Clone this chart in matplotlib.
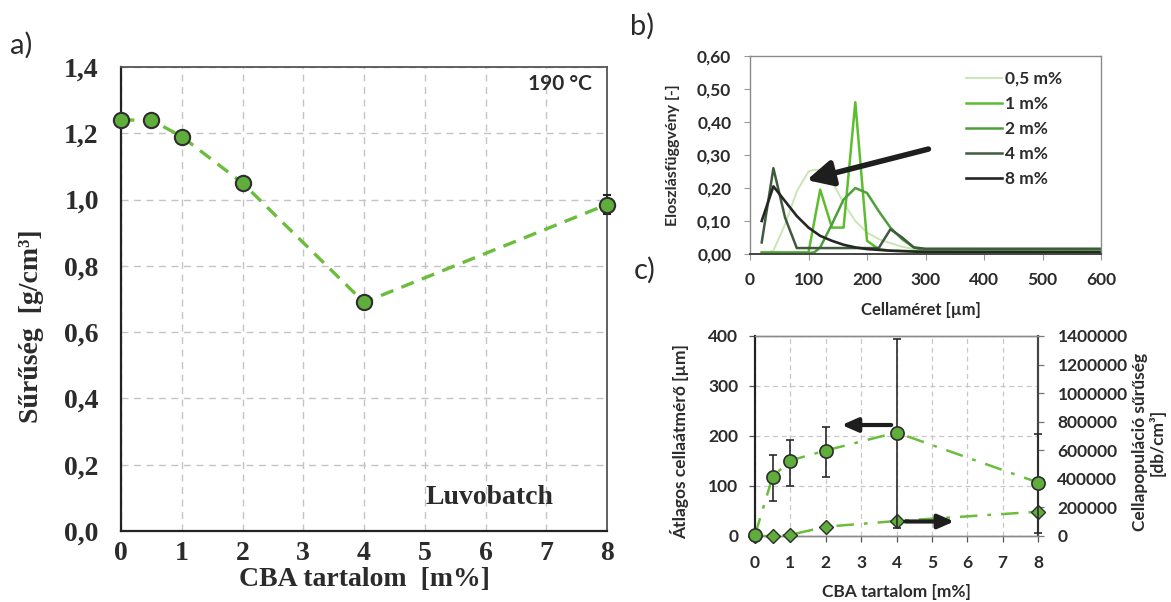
import matplotlib
matplotlib.use("Agg")
import matplotlib.pyplot as plt

W, H = 1171, 602

# ---------------- Panel a data ----------------
cba_a = [0, 0.5, 1, 2, 4, 8]
density = [1.24, 1.24, 1.19, 1.05, 0.69, 0.985]
density_err = [0, 0, 0, 0, 0, 0.03]
a_xticks = [0, 1, 2, 3, 4, 5, 6, 7, 8]
a_yticks = [0.0, 0.2, 0.4, 0.6, 0.8, 1.0, 1.2, 1.4]
a_yticklabels = ["0,0", "0,2", "0,4", "0,6", "0,8", "1,0", "1,2", "1,4"]

# ---------------- Panel b data ----------------
b_labels = ["0,5 m%", "1 m%", "2 m%", "4 m%", "8 m%"]
x_05 = [20, 40, 60, 80, 100, 110, 120, 140, 160, 180, 200, 220, 240, 260, 280, 300, 600]
y_05 = [0.0, 0.01, 0.09, 0.19, 0.25, 0.255, 0.255, 0.22, 0.155, 0.10, 0.065, 0.045, 0.033, 0.022, 0.015, 0.01, 0.008]
x_1 = [20, 40, 60, 80, 100, 120, 140, 160, 180, 200, 220, 240, 300, 600]
y_1 = [0.005, 0.005, 0.005, 0.005, 0.005, 0.195, 0.08, 0.08, 0.46, 0.04, 0.015, 0.01, 0.008, 0.008]
x_2 = [20, 100, 110, 120, 140, 160, 180, 200, 220, 240, 260, 280, 300, 600]
y_2 = [0.003, 0.003, 0.005, 0.02, 0.09, 0.165, 0.20, 0.185, 0.13, 0.08, 0.045, 0.02, 0.01, 0.01]
x_4 = [20, 40, 60, 80, 100, 220, 240, 260, 280, 300, 600]
y_4 = [0.035, 0.26, 0.11, 0.018, 0.018, 0.018, 0.075, 0.05, 0.02, 0.016, 0.016]
x_8 = [20, 40, 60, 80, 100, 120, 140, 160, 180, 200, 240, 300, 600]
y_8 = [0.10, 0.205, 0.16, 0.115, 0.08, 0.055, 0.04, 0.028, 0.02, 0.015, 0.01, 0.006, 0.005]
b_xticks = [0, 100, 200, 300, 400, 500, 600]
b_yticks = [0.0, 0.1, 0.2, 0.3, 0.4, 0.5, 0.6]
b_yticklabels = ["0,00", "0,10", "0,20", "0,30", "0,40", "0,50", "0,60"]

# ---------------- Panel c data ----------------
cba_c = [0, 0.5, 1, 2, 4, 8]
cell_diam = [2, 119, 151, 171, 207, 107]
cell_diam_err_lo = [0, 48, 50, 52, 190, 100]
cell_diam_err_hi = [0, 43, 41, 47, 188, 98]
cell_dens = [0, 0, 8000, 65000, 105000, 170000]
c_xticks = [0, 1, 2, 3, 4, 5, 6, 7, 8]
c_yticks = [0, 100, 200, 300, 400]
c_y2ticks = [0, 200000, 400000, 600000, 800000, 1000000, 1200000, 1400000]

TXT = "#2b2b2b"
GREEN = "#5fae3c"
LINEG = "#6cbc3e"
SERIF = "Liberation Serif"
SANS = "Lato"

fig = plt.figure(figsize=(W / 100, H / 100), dpi=100)


def rect(l, r, t, b):
    return [l / W, (H - b) / H, (r - l) / W, (b - t) / H]


# ======================= Panel a =======================
axa = fig.add_axes(rect(121, 607, 67, 531))
axa.set_xlim(0, 8)
axa.set_ylim(0, 1.4)
axa.set_xticks(a_xticks)
axa.set_xticklabels([str(t) for t in a_xticks])
axa.set_yticks(a_yticks)
axa.set_yticklabels(a_yticklabels)
for lab in axa.get_xticklabels() + axa.get_yticklabels():
    lab.set_fontfamily(SERIF)
    lab.set_fontweight("bold")
    lab.set_fontsize(20)
    lab.set_color(TXT)
axa.tick_params(axis="y", length=0, pad=16)
axa.tick_params(axis="x", length=0, pad=7)
axa.grid(True, color="#c4c4c4", linestyle=(0, (5, 4)), linewidth=1.0)
axa.set_axisbelow(True)
for s in ["left", "bottom"]:
    axa.spines[s].set_color("#222222")
    axa.spines[s].set_linewidth(1.6)
for s in ["top", "right"]:
    axa.spines[s].set_color("#555555")
    axa.spines[s].set_linewidth(1.3)
axa.plot(cba_a, density, color=LINEG, linestyle=(0, (4, 2.6)), linewidth=2.4, zorder=3)
axa.errorbar(cba_a, density, yerr=density_err, fmt="o", markersize=11,
             markerfacecolor=GREEN, markeredgecolor="#2e2e2e", markeredgewidth=1.5,
             ecolor="#222222", elinewidth=1.2, capsize=3, zorder=4, clip_on=False)
axa.set_xlabel("CBA tartalom  [m%]", fontfamily=SERIF, fontweight="bold", fontsize=20, color=TXT)
axa.xaxis.label.set_va("center")
axa.xaxis.set_label_coords(0.5, -(580 - 531) / 464)
axa.set_ylabel("Sűrűség  [g/cm³]", fontfamily=SERIF, fontweight="bold", fontsize=20, color=TXT)
axa.yaxis.label.set_va("center")
axa.yaxis.set_label_coords(-(121 - 32) / 486, (531 - 326) / 464)
axa.text(7.22, 1.35, "190 °C", fontfamily=SANS, fontweight="bold", fontsize=15,
         color=TXT, ha="center", va="center")
axa.text(6.06, 0.10, "Luvobatch", fontfamily=SERIF, fontweight="bold", fontsize=20,
         color=TXT, ha="center", va="center")

# ======================= Panel b =======================
axb = fig.add_axes(rect(750, 1101, 56, 254))
axb.set_xlim(0, 600)
axb.set_ylim(0, 0.6)
b_colors = ["#c9e6b4", "#5cbd2e", "#4f9e3c", "#3f5a3e", "#262626"]
b_lw = [1.4, 1.8, 1.8, 1.8, 1.9]
series_b = [(x_05, y_05), (x_1, y_1), (x_2, y_2), (x_4, y_4), (x_8, y_8)]
for (xs, ys), c, lw, lab in zip(series_b, b_colors, b_lw, b_labels):
    axb.plot(xs, ys, color=c, linewidth=lw, label=lab)
axb.set_xticks(b_xticks)
axb.set_xticklabels([str(t) for t in b_xticks])
axb.set_yticks(b_yticks)
axb.set_yticklabels(b_yticklabels)
for lab in axb.get_xticklabels() + axb.get_yticklabels():
    lab.set_fontfamily(SANS)
    lab.set_fontweight("bold")
    lab.set_fontsize(12.5)
    lab.set_color(TXT)
axb.tick_params(axis="both", length=4, width=0.8, color="#999999")
axb.tick_params(axis="y", pad=9.5)
axb.tick_params(axis="x", pad=9)
for s in axb.spines.values():
    s.set_color("#8a8a8a")
    s.set_linewidth(1.0)
axb.spines["bottom"].set_color("#444444")
axb.spines["bottom"].set_linewidth(1.4)
axb.set_xlabel("Cellaméret [µm]", fontfamily=SANS, fontweight="bold", fontsize=12, color=TXT)
axb.xaxis.label.set_va("center")
axb.xaxis.set_label_coords(0.486, -(310 - 254) / 198)
axb.set_ylabel("Eloszlásfüggvény [-]", fontfamily=SANS, fontweight="bold", fontsize=11.5, color=TXT)
axb.yaxis.label.set_va("center")
axb.yaxis.set_label_coords(-(750 - 673) / 351, 0.5)
leg = axb.legend(loc="upper left", bbox_to_anchor=((966 - 750) / 351, (254 - 71) / 198),
                 frameon=False, borderpad=0, borderaxespad=0, handlelength=2.1,
                 handletextpad=0.15, labelspacing=0.52,
                 prop={"family": SANS, "weight": "bold", "size": 12.5})
for t in leg.get_texts():
    t.set_color(TXT)
axb.annotate("", xy=(97, 0.224), xytext=(305, 0.318),
             arrowprops=dict(arrowstyle="-|>,head_length=1.1,head_width=0.55",
                             lw=4, color="#1e1e1e", shrinkA=0, shrinkB=0,
                             mutation_scale=14))

# ======================= Panel c =======================
axc = fig.add_axes(rect(755, 1038, 336, 536))
axc.set_xlim(0, 8)
axc.set_ylim(0, 400)
axc.set_xticks(c_xticks)
axc.set_xticklabels([str(t) for t in c_xticks])
axc.set_yticks(c_yticks)
axc.set_yticklabels([str(t) for t in c_yticks])
axc.grid(True, color="#c8c8c8", linestyle=(0, (4, 3)), linewidth=0.9)
axc.set_axisbelow(True)
ax2 = axc.twinx()
ax2.set_ylim(0, 1400000)
ax2.set_yticks(c_y2ticks)
ax2.set_yticklabels([str(t) for t in c_y2ticks])
for lab in axc.get_xticklabels() + axc.get_yticklabels() + ax2.get_yticklabels():
    lab.set_fontfamily(SANS)
    lab.set_fontweight("bold")
    lab.set_fontsize(12.5)
    lab.set_color(TXT)
axc.tick_params(axis="both", length=4, width=0.9, color="#555555")
axc.tick_params(axis="y", pad=8)
axc.tick_params(axis="x", pad=10)
ax2.tick_params(axis="y", length=4, width=0.9, color="#777777", pad=10)
for a in (axc, ax2):
    a.spines["left"].set_color("#222222")
    a.spines["left"].set_linewidth(1.5)
    a.spines["right"].set_color("#444444")
    a.spines["right"].set_linewidth(1.5)
    a.spines["top"].set_color("#8a8a8a")
    a.spines["top"].set_linewidth(1.0)
    a.spines["bottom"].set_color("#8a8a8a")
    a.spines["bottom"].set_linewidth(1.0)

dashdot = (0, (7, 4, 1.5, 4))
ax2.plot(cba_c, cell_dens, color=LINEG, linestyle=dashdot, linewidth=1.8, zorder=2)
ax2.plot(cba_c, cell_dens, linestyle="none", marker="D", markersize=7.5,
         markerfacecolor=GREEN, markeredgecolor="#2e2e2e", markeredgewidth=1.0,
         clip_on=False, zorder=3)
ax2.plot(cba_c, [v * 3500 for v in cell_diam], color=LINEG, linestyle=dashdot,
         linewidth=1.8, zorder=2)
ax2.errorbar(cba_c, [v * 3500 for v in cell_diam],
             yerr=[[v * 3500 for v in cell_diam_err_lo], [v * 3500 for v in cell_diam_err_hi]],
             fmt="o", markersize=9.5, markerfacecolor=GREEN, markeredgecolor="#2e2e2e",
             markeredgewidth=1.2, ecolor="#2a2a2a", elinewidth=1.2, capsize=3,
             clip_on=False, zorder=4)
axc.set_xlabel("CBA tartalom [m%]", fontfamily=SANS, fontweight="bold", fontsize=12.5, color=TXT)
axc.xaxis.label.set_va("center")
axc.xaxis.set_label_coords(0.5, -(592 - 536) / 200)
axc.set_ylabel("Átlagos cellaátmérő [µm]", fontfamily=SANS, fontweight="bold", fontsize=12.5, color=TXT)
axc.yaxis.label.set_va("center")
axc.yaxis.set_label_coords(-(755 - 680) / 283, 0.47)
ax2.set_ylabel("Cellapopuláció sűrűség\n[db/cm³]", fontfamily=SANS, fontweight="bold",
               fontsize=12.5, color=TXT, linespacing=1.0)
ax2.yaxis.label.set_va("center")
ax2.yaxis.set_label_coords((1149 - 755) / 283, 0.47)
ax2.annotate("", xy=(2.45, 222 * 3500), xytext=(3.85, 222 * 3500),
             arrowprops=dict(arrowstyle="-|>,head_length=0.8,head_width=0.35",
                             lw=3, color="#1e1e1e", shrinkA=0, shrinkB=0,
                             mutation_scale=12), zorder=5)
ax2.annotate("", xy=(5.63, 29 * 3500), xytext=(4.25, 29 * 3500),
             arrowprops=dict(arrowstyle="-|>,head_length=0.8,head_width=0.35",
                             lw=3, color="#1e1e1e", shrinkA=0, shrinkB=0,
                             mutation_scale=12), zorder=5)

# ---------------- panel letters ----------------
fig.text(10 / W, 1 - 45 / H, "a)", fontfamily=SANS, fontsize=21, color=TXT, va="center", ha="left")
fig.text(630 / W, 1 - 26 / H, "b)", fontfamily=SANS, fontsize=21, color=TXT, va="center", ha="left")
fig.text(634 / W, 1 - 270 / H, "c)", fontfamily=SANS, fontsize=21, color=TXT, va="center", ha="left")

fig.savefig("out.png", dpi=100)
